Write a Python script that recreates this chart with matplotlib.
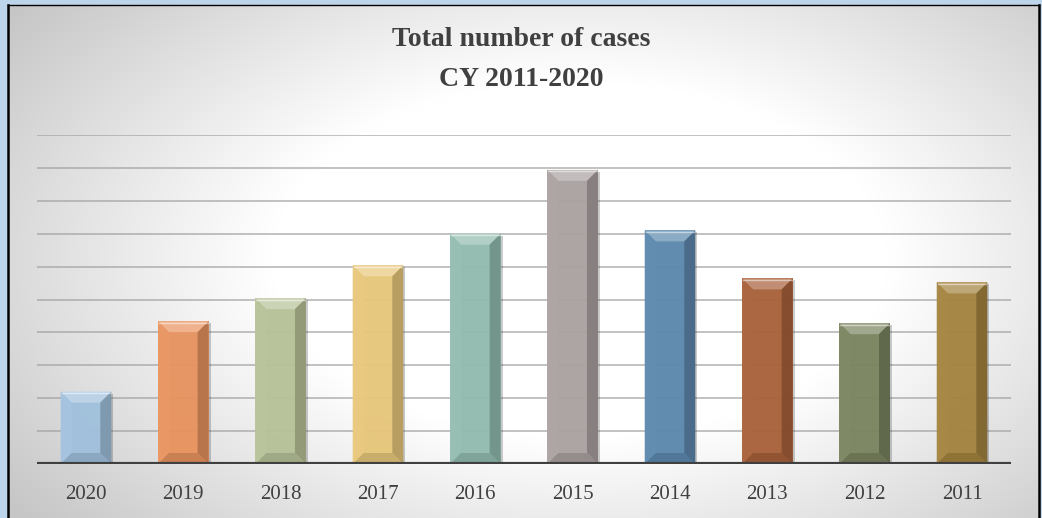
import numpy as np
import matplotlib.pyplot as plt
import matplotlib.colors as mcolors
from matplotlib.patches import Polygon, Rectangle

plt.rcParams['font.family'] = ['Liberation Serif', 'DejaVu Serif']

# Casos por ano (um traco da grade = 50 casos)
anos = ['2020', '2019', '2018', '2017', '2016', '2015', '2014', '2013', '2012', '2011']
casos = [110, 217, 252, 302, 350, 447, 355, 282, 214, 276]
cores = ['#a2c2de', '#e9945f', '#b8c399', '#e9c87b', '#94bdb1',
         '#aca2a2', '#5d89ae', '#a9623b', '#7b8560', '#a5843f']

LARGURA, ALTURA, DPI = 1042, 518, 100
COR_TEXTO = '#404040'

fig = plt.figure(figsize=(LARGURA / DPI, ALTURA / DPI), dpi=DPI)
fig.patch.set_facecolor('#bdd5ea')

# Fundo com degrade radial (branco no meio, cinza nas bordas)
fundo = fig.add_axes([8 / LARGURA, 0, (1039 - 8) / LARGURA, (ALTURA - 5) / ALTURA])
xs = np.linspace(8, 1039, 400)
ys = np.linspace(5, ALTURA, 220)
X, Y = np.meshgrid(xs, ys)
d = np.sqrt(((X - 580) / 620) ** 2 + ((Y - 260) / 360) ** 2)
t = np.clip((d - 0.5) / 0.65, 0, 1)
cinza = 1 - t * (1 - 0xc6 / 255)
fundo.imshow(np.dstack([cinza, cinza, cinza]), extent=[0, 1, 0, 1], aspect='auto',
             interpolation='bilinear')
fundo.set_xticks([])
fundo.set_yticks([])
for lado in ['left', 'right']:
    fundo.spines[lado].set_linewidth(1.8)
fundo.spines['top'].set_linewidth(1.0)
fundo.spines['bottom'].set_visible(False)

# Area do grafico
x0, x1 = 37.3, 1010.7
y_base, y_topo = 464, 135
ax = fig.add_axes([x0 / LARGURA, (ALTURA - y_base) / ALTURA,
                   (x1 - x0) / LARGURA, (y_base - y_topo) / ALTURA])
ax.patch.set_alpha(0)
ax.set_xlim(-0.5, 9.5)
ax.set_ylim(0, 500)
for s in ax.spines.values():
    s.set_visible(False)

for v in range(50, 501, 50):
    ax.axhline(v, color='#a0a0a0', lw=1.2, alpha=0.75, zorder=1)
ax.axhline(0, color=COR_TEXTO, lw=3, zorder=5)

ax.set_xticks(range(len(anos)))
ax.set_xticklabels(anos, fontsize=15, color=COR_TEXTO)
ax.tick_params(axis='x', length=0, pad=15)
ax.set_yticks([])

# conversao de pixel para unidades de dados (chanfro das barras)
px_x = 10 / (x1 - x0)
px_y = 500 / (y_base - y_topo)
chanfro_x = 11 * px_x
chanfro_y = 11 * px_y


def mistura(cor, outra, frac):
    c = np.array(mcolors.to_rgb(cor))
    o = np.array(mcolors.to_rgb(outra))
    return tuple(c * (1 - frac) + o * frac)


barras = ax.bar(range(len(anos)), casos, width=0.52, color=cores, zorder=3, alpha=0.95)
for barra, cor in zip(barras, cores):
    bx, by = barra.get_x(), barra.get_y()
    bw, bh = barra.get_width(), barra.get_height()
    xa, xb, ya, yb = bx, bx + bw, by, by + bh
    ia, ib = xa + chanfro_x, xb - chanfro_x
    ja, jb = ya + chanfro_y, yb - chanfro_y

    # sombra leve a direita
    ax.add_patch(Rectangle((xa + 2 * px_x, ya), bw, bh - 2 * px_y,
                           color='#303030', alpha=0.25, zorder=2, lw=0))

    faces = [
        ([(xa, yb), (xb, yb), (ib, jb), (ia, jb)], mistura(cor, 'white', 0.3)),
        ([(xa, ya), (xa, yb), (ia, jb), (ia, ja)], mistura(cor, 'white', 0.04)),
        ([(xb, ya), (xb, yb), (ib, jb), (ib, ja)], mistura(cor, 'black', 0.22)),
        ([(xa, ya), (xb, ya), (ib, ja), (ia, ja)], mistura(cor, 'black', 0.14)),
    ]
    for pts, c in faces:
        ax.add_patch(Polygon(pts, closed=True, facecolor=c, edgecolor='none',
                             alpha=0.95, zorder=4))
    # brilho fino na borda de cima
    ax.plot([xa + px_x, xb - px_x], [yb - 1.5 * px_y, yb - 1.5 * px_y],
            color='white', alpha=0.5, lw=1, zorder=4)

fig.text(0.5, 1 - 40 / ALTURA, 'Total number of cases', ha='center', va='center',
         fontsize=20, fontweight='bold', color=COR_TEXTO)
fig.text(0.5, 1 - 80 / ALTURA, 'CY 2011-2020', ha='center', va='center',
         fontsize=20, fontweight='bold', color=COR_TEXTO)

fig.savefig('out.png', dpi=DPI, facecolor=fig.get_facecolor())
